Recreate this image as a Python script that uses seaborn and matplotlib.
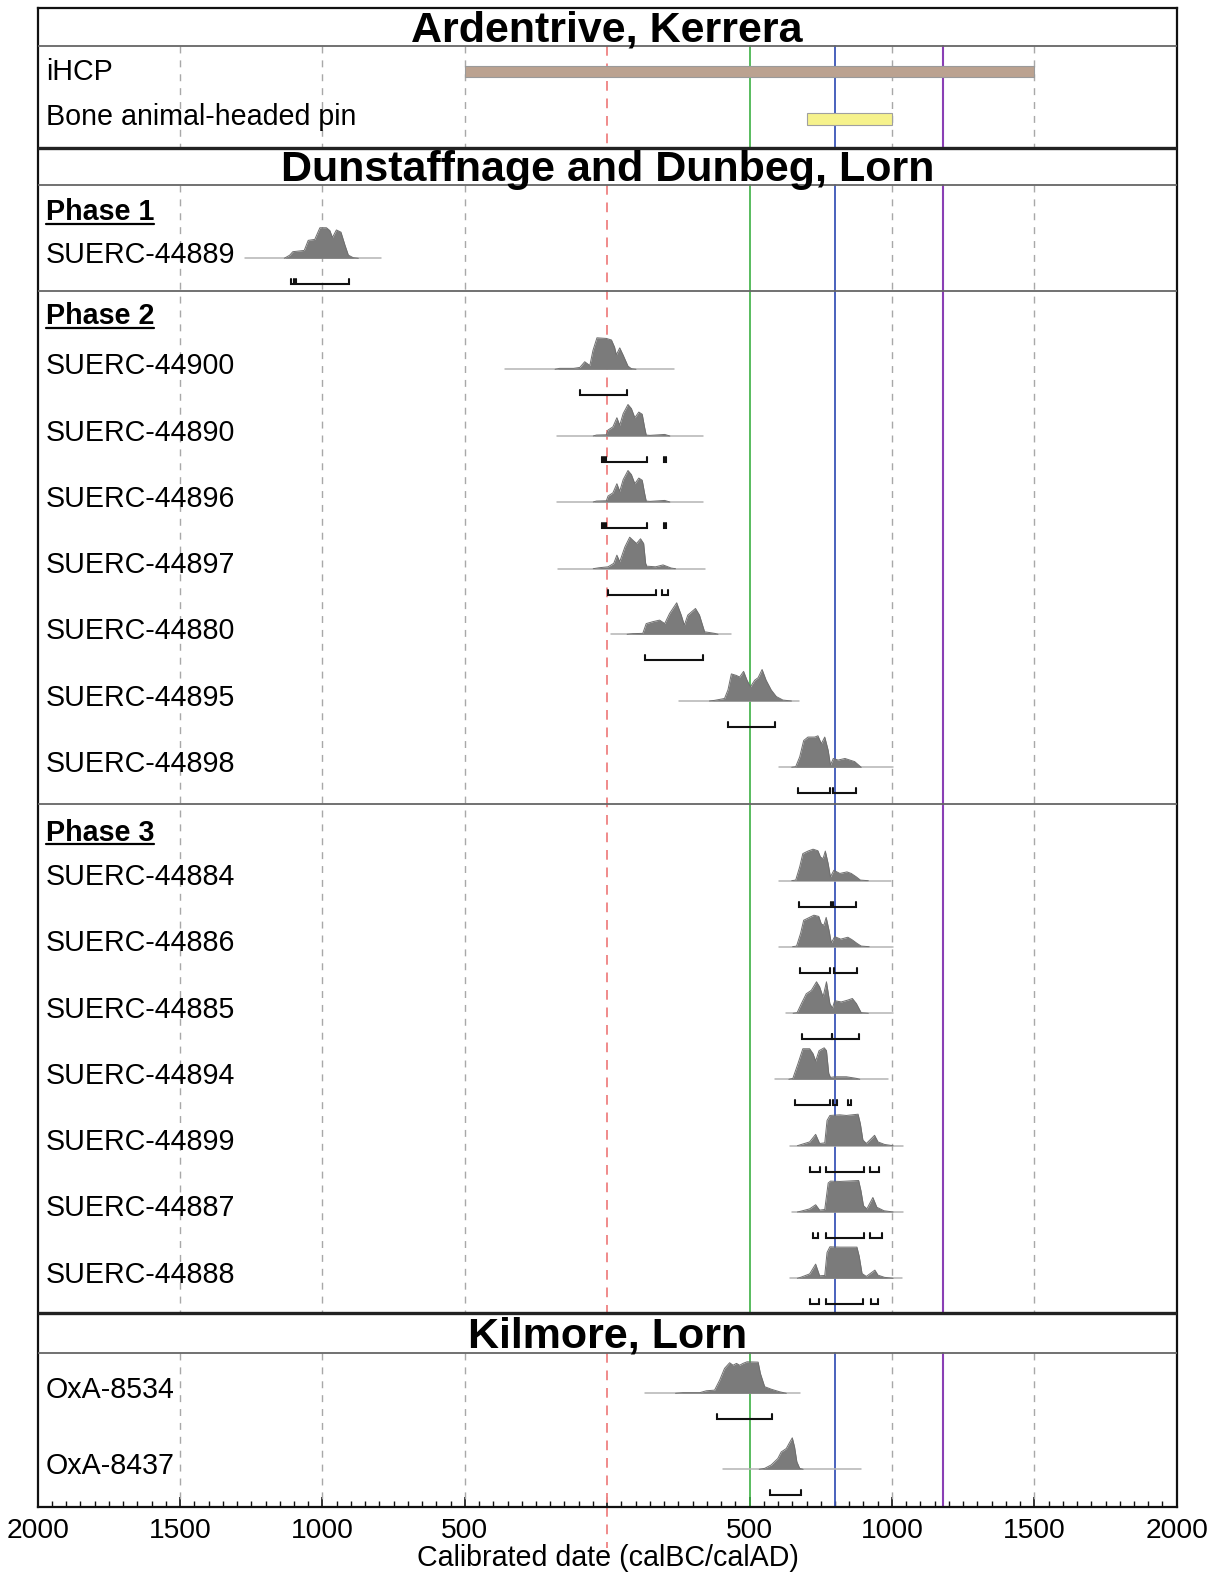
import numpy as np
import seaborn as sns
import matplotlib.pyplot as plt
from matplotlib.ticker import MultipleLocator

# ---------------- data (years, negative = BC) ----------------
ihcp_range = (-500, 1500)
pin_range = (700, 1000)

ref_dashed = [-1500, -1000, -500, 1000, 1500]
ref_red = 0
ref_green = 500
ref_blue = 800
ref_purple = 1180

tick_years = [-2000, -1500, -1000, -500, 0, 500, 1000, 1500, 2000]
tick_labels = ['2000', '1500', '1000', '500', '', '500', '1000', '1500', '2000']

# Phase 1
s44889_span = (-1273, -793)
s44889_years = [-1134, -1115, -1104, -1064, -1050, -1027, -1009, -986, -974, -965, -951, -935, -921, -909, -892, -874]
s44889_dens = [0, 0.1, 0.21, 0.25, 0.57, 0.6, 0.97, 0.97, 0.88, 0.66, 0.9, 0.83, 0.42, 0.1, 0.02, 0]
s44889_hpd = [(-1111, -1099), (-1094, -907)]

# Phase 2
s44900_span = (-360, 233)
s44900_years = [-183, -167, -118, -96, -79, -61, -50, -36, -3, 15, 26, 32, 44, 56, 73, 85, 101]
s44900_dens = [0, 0.03, 0.03, 0.06, 0.24, 0.12, 0.6, 1.0, 0.98, 0.93, 0.7, 0.46, 0.68, 0.45, 0.1, 0.02, 0]
s44900_hpd = [(-94, 71)]

s44890_span = (-178, 335)
s44890_years = [-49, -38, -3, 3, 20, 34, 44, 56, 73, 85, 97, 111, 123, 131, 137, 150, 202, 220]
s44890_dens = [0, 0.03, 0.04, 0.19, 0.29, 0.58, 0.34, 0.71, 1.0, 0.87, 0.58, 0.76, 0.69, 0.29, 0.03, 0.02, 0.05, 0]
s44890_hpd = [(-20, -11), (-5, 140), (198, 207)]

s44896_span = (-178, 335)
s44896_years = [-49, -38, -3, 3, 20, 34, 44, 56, 73, 85, 97, 111, 123, 131, 137, 150, 202, 220]
s44896_dens = [0, 0.03, 0.04, 0.19, 0.29, 0.58, 0.34, 0.71, 1.0, 0.87, 0.58, 0.76, 0.69, 0.29, 0.03, 0.02, 0.05, 0]
s44896_hpd = [(-20, -11), (-5, 140), (198, 207)]

s44897_span = (-173, 343)
s44897_years = [-49, -29, 3, 23, 34, 44, 62, 79, 93, 103, 117, 128, 135, 139, 170, 196, 225, 240]
s44897_dens = [0, 0.03, 0.06, 0.17, 0.43, 0.22, 0.69, 1.0, 0.88, 0.8, 0.95, 0.8, 0.17, 0.08, 0.06, 0.12, 0.02, 0]
s44897_hpd = [(3, 172), (193, 212)]

s44880_span = (15, 436)
s44880_years = [70, 90, 125, 137, 160, 184, 202, 219, 244, 260, 271, 283, 310, 324, 342, 377, 389]
s44880_dens = [0, 0.02, 0.03, 0.34, 0.4, 0.45, 0.34, 0.66, 1.0, 0.61, 0.29, 0.61, 0.82, 0.61, 0.08, 0.03, 0]
s44880_hpd = [(134, 336)]

s44895_span = (252, 673)
s44895_years = [359, 377, 412, 424, 436, 454, 465, 479, 491, 503, 518, 530, 544, 558, 576, 594, 617, 647]
s44895_dens = [0, 0.02, 0.08, 0.35, 0.86, 0.81, 0.76, 0.94, 0.66, 0.45, 0.66, 0.74, 1.0, 0.66, 0.35, 0.14, 0.03, 0]
s44895_hpd = [(424, 590)]

s44898_span = (603, 1002)
s44898_years = [648, 662, 676, 690, 705, 729, 740, 752, 764, 776, 784, 794, 811, 835, 852, 869, 892]
s44898_dens = [0, 0.02, 0.33, 0.85, 0.96, 0.96, 1.0, 0.75, 0.96, 0.54, 0.07, 0.28, 0.23, 0.28, 0.23, 0.18, 0]
s44898_hpd = [(670, 784), (794, 872)]

# Phase 3
s44884_span = (603, 998)
s44884_years = [648, 662, 676, 687, 705, 723, 740, 749, 758, 766, 776, 784, 796, 817, 842, 857, 875, 889, 917]
s44884_dens = [0, 0.02, 0.44, 0.86, 0.94, 1.0, 0.95, 0.75, 0.7, 0.94, 0.54, 0.12, 0.33, 0.23, 0.28, 0.23, 0.12, 0.02, 0]
s44884_hpd = [(673, 785), (794, 875)]

s44886_span = (605, 1002)
s44886_years = [651, 665, 679, 690, 708, 726, 743, 752, 761, 769, 779, 787, 799, 820, 845, 860, 878, 892, 920]
s44886_dens = [0, 0.02, 0.42, 0.84, 0.92, 1.0, 0.96, 0.72, 0.68, 0.93, 0.52, 0.12, 0.32, 0.24, 0.3, 0.22, 0.1, 0.02, 0]
s44886_hpd = [(676, 784), (796, 877)]

s44885_span = (629, 1004)
s44885_years = [653, 667, 682, 699, 717, 735, 746, 758, 770, 782, 791, 799, 822, 845, 861, 875, 892, 917]
s44885_dens = [0, 0.02, 0.31, 0.62, 0.73, 1.0, 0.84, 0.52, 1.0, 0.31, 0.16, 0.4, 0.36, 0.42, 0.47, 0.31, 0.02, 0]
s44885_hpd = [(684, 788), (791, 883)]

s44894_span = (591, 986)
s44894_years = [638, 652, 670, 687, 711, 723, 732, 744, 762, 770, 778, 784, 799, 840, 875, 887]
s44894_dens = [0, 0.03, 0.5, 0.97, 0.97, 0.81, 0.58, 0.91, 1.0, 0.91, 0.19, 0.06, 0.08, 0.08, 0.03, 0]
s44894_hpd = [(658, 782), (794, 808), (845, 857)]

s44899_span = (643, 1040)
s44899_years = [668, 682, 711, 732, 746, 764, 772, 782, 817, 840, 881, 889, 898, 910, 928, 939, 951, 974, 1004]
s44899_dens = [0, 0.04, 0.12, 0.36, 0.07, 0.09, 0.8, 0.96, 0.98, 0.96, 1.0, 0.7, 0.18, 0.07, 0.23, 0.33, 0.12, 0.04, 0]
s44899_hpd = [(713, 746), (767, 901), (924, 954)]

s44887_span = (648, 1040)
s44887_years = [668, 682, 711, 732, 746, 764, 776, 784, 817, 840, 883, 891, 900, 912, 933, 947, 972, 1004]
s44887_dens = [0, 0.03, 0.1, 0.23, 0.06, 0.08, 0.92, 0.98, 0.97, 0.98, 1.0, 0.68, 0.2, 0.1, 0.46, 0.15, 0.04, 0]
s44887_hpd = [(723, 740), (767, 902), (922, 965)]

s44888_span = (643, 1034)
s44888_years = [668, 682, 711, 732, 746, 764, 772, 782, 817, 840, 877, 885, 895, 910, 928, 940, 951, 974, 1004]
s44888_dens = [0, 0.04, 0.14, 0.45, 0.08, 0.09, 0.82, 1.0, 0.99, 0.99, 0.99, 0.7, 0.15, 0.06, 0.18, 0.26, 0.1, 0.03, 0]
s44888_hpd = [(713, 744), (767, 898), (925, 951)]

# Kilmore
oxa8534_span = (131, 676)
oxa8534_years = [240, 266, 325, 348, 377, 395, 412, 430, 442, 454, 465, 477, 491, 530, 538, 553, 576, 605, 629]
oxa8534_dens = [0, 0.02, 0.02, 0.08, 0.1, 0.42, 0.79, 0.97, 0.89, 0.95, 0.89, 0.95, 1.0, 0.99, 0.63, 0.21, 0.13, 0.05, 0]
oxa8534_hpd = [(386, 578)]

oxa8437_span = (406, 892)
oxa8437_years = [534, 553, 576, 599, 611, 629, 638, 650, 658, 666, 676, 688]
oxa8437_dens = [0, 0.03, 0.14, 0.34, 0.55, 0.66, 0.81, 1.0, 0.71, 0.24, 0.03, 0]
oxa8437_hpd = [(570, 682)]

# ---------------- layout (y in pixel rows, top = 0) ----------------
W, H = 1223, 1575
X0, X1, Y0, Y1 = 37.7, 1176.7, 7.5, 1507.0
DENS_H = 31.5
LABEL_X = -1971
FS = 20.6

samples = [
    ('SUERC-44889', 258.3, s44889_span, s44889_years, s44889_dens, s44889_hpd),
    ('SUERC-44900', 369.3, s44900_span, s44900_years, s44900_dens, s44900_hpd),
    ('SUERC-44890', 436.0, s44890_span, s44890_years, s44890_dens, s44890_hpd),
    ('SUERC-44896', 502.0, s44896_span, s44896_years, s44896_dens, s44896_hpd),
    ('SUERC-44897', 568.7, s44897_span, s44897_years, s44897_dens, s44897_hpd),
    ('SUERC-44880', 634.3, s44880_span, s44880_years, s44880_dens, s44880_hpd),
    ('SUERC-44895', 701.0, s44895_span, s44895_years, s44895_dens, s44895_hpd),
    ('SUERC-44898', 767.3, s44898_span, s44898_years, s44898_dens, s44898_hpd),
    ('SUERC-44884', 880.7, s44884_span, s44884_years, s44884_dens, s44884_hpd),
    ('SUERC-44886', 946.7, s44886_span, s44886_years, s44886_dens, s44886_hpd),
    ('SUERC-44885', 1013.3, s44885_span, s44885_years, s44885_dens, s44885_hpd),
    ('SUERC-44894', 1079.3, s44894_span, s44894_years, s44894_dens, s44894_hpd),
    ('SUERC-44899', 1145.7, s44899_span, s44899_years, s44899_dens, s44899_hpd),
    ('SUERC-44887', 1212.0, s44887_span, s44887_years, s44887_dens, s44887_hpd),
    ('SUERC-44888', 1278.3, s44888_span, s44888_years, s44888_dens, s44888_hpd),
    ('OxA-8534', 1393.3, oxa8534_span, oxa8534_years, oxa8534_dens, oxa8534_hpd),
    ('OxA-8437', 1469.3, oxa8437_span, oxa8437_years, oxa8437_dens, oxa8437_hpd),
]

# panels where the reference lines are drawn (between title bands)
panels = [(46.2, 147.7), (184.8, 1312.5), (1352.5, Y1)]
titles = [('Ardentrive, Kerrera', Y0, 46.2),
          ('Dunstaffnage and Dunbeg, Lorn', 147.7, 184.8),
          ('Kilmore, Lorn', 1312.5, 1352.5)]
phases = [('Phase 1', 220.0), ('Phase 2', 324.0), ('Phase 3', 840.7)]

sns.set_theme(style='white')
plt.rcParams['font.family'] = ['Liberation Sans', 'DejaVu Sans']
plt.rcParams['text.color'] = 'black'
plt.rcParams['xtick.color'] = '#111111'
plt.rcParams['xtick.labelcolor'] = 'black'

fig = plt.figure(figsize=(W / 100, H / 100), dpi=100)
ax = fig.add_axes([X0 / W, 1 - Y1 / H, (X1 - X0) / W, (Y1 - Y0) / H])
ax.set_xlim(-2000, 2000)
ax.set_ylim(Y1, Y0)

# reference lines, per panel
for top, bot in panels:
    for yr in ref_dashed:
        ax.plot([yr, yr], [top, bot], color='#a8a8a8', lw=1.0, ls=(0, (5, 5)), zorder=1)
    ax.plot([ref_green] * 2, [top, bot], color='#3cb043', lw=1.2, zorder=1)
    ax.plot([ref_blue] * 2, [top, bot], color='#3a55b8', lw=1.3, zorder=1)
    ax.plot([ref_purple] * 2, [top, bot], color='#8a3fb5', lw=1.5, zorder=1)
    ax.plot([ref_red] * 2, [top, bot], color='#f08a8a', lw=1.4, ls=(0, (5, 4)), zorder=1)
# red line runs on below the axis
ax.plot([ref_red] * 2, [Y1, 1548], color='#f08a8a', lw=1.4, ls=(0, (5, 4)), clip_on=False, zorder=1)

# horizontal separators
for y, lw, col in [(46.2, 1.3, '#666666'), (147.7, 2.4, '#222222'), (184.8, 1.3, '#666666'),
                   (291.3, 1.3, '#666666'), (803.6, 1.3, '#666666'),
                   (1312.5, 2.4, '#222222'), (1352.5, 1.3, '#666666')]:
    ax.axhline(y, color=col, lw=lw, zorder=3)

# titles
for txt, top, bot in titles:
    ax.text(0, (top + bot) / 2 + 14.8, txt, ha='center', va='baseline',
            fontsize=31, fontweight='bold', color='black', zorder=5)

# Ardentrive bars
ax.barh(71.8, ihcp_range[1] - ihcp_range[0], left=ihcp_range[0], height=11,
        color='#bba290', edgecolor='#9a9a9a', lw=0.8, zorder=2)
ax.barh(118.5, pin_range[1] - pin_range[0], left=pin_range[0], height=12,
        color='#f6f28c', edgecolor='#a0a0a0', lw=0.8, zorder=2)
ax.text(LABEL_X, 79.5, 'iHCP', fontsize=FS, va='baseline', zorder=5)
ax.text(LABEL_X, 125.0, 'Bone animal-headed pin', fontsize=FS, va='baseline', zorder=5)

# phase headings (underlined)
phase_texts = []
for txt, yb in phases:
    t = ax.text(LABEL_X, yb, txt, fontsize=FS, fontweight='bold', va='baseline', zorder=5)
    phase_texts.append((t, yb))

# distributions
for name, base, span, yrs, dens, hpd in samples:
    yrs = np.array(yrs, dtype=float)
    top = base - DENS_H * np.array(dens, dtype=float)
    ax.plot(span, [base, base], color='#b4b4b4', lw=1.1, zorder=2)
    ax.fill_between(yrs, base, top, color='#7b7b7b', lw=0, zorder=2)
    sns.lineplot(x=yrs, y=top, ax=ax, color='#6e6e6e', lw=0.7, zorder=2)
    yb = base + 26
    for a, b in hpd:
        ax.plot([a, a, b, b], [yb - 5, yb, yb, yb - 5], color='#111111', lw=1.5,
                solid_joinstyle='miter', zorder=3)
    ax.text(LABEL_X, base + 4.5, name, fontsize=FS, va='baseline', zorder=5)

# axis styling
for side in ['left', 'right', 'top', 'bottom']:
    ax.spines[side].set_visible(True)
    ax.spines[side].set_color('#111111')
    ax.spines[side].set_linewidth(1.6)
ax.set_yticks([])
ax.set_xticks(tick_years)
ax.set_xticklabels(tick_labels)
ax.xaxis.set_minor_locator(MultipleLocator(50))
ax.tick_params(axis='x', which='major', direction='in', length=7, width=1.2,
               labelsize=20.3, pad=8, bottom=True)
ax.tick_params(axis='x', which='minor', direction='in', length=4, width=1.0, bottom=True)
ax.grid(False)

fig.text(607.5 / W, 1 - 1558 / H, 'Calibrated date (calBC/calAD)', ha='center',
         va='center', fontsize=FS)

# underline the phase headings
fig.canvas.draw()
r = fig.canvas.get_renderer()
inv = ax.transData.inverted()
for t, yb in phase_texts:
    bb = t.get_window_extent(r)
    xa = inv.transform((bb.x0, bb.y0))[0]
    xb = inv.transform((bb.x1, bb.y0))[0]
    ax.plot([xa, xb], [yb + 3.5, yb + 3.5], color='black', lw=1.6, zorder=5)

fig.savefig('out.png', dpi=100)
